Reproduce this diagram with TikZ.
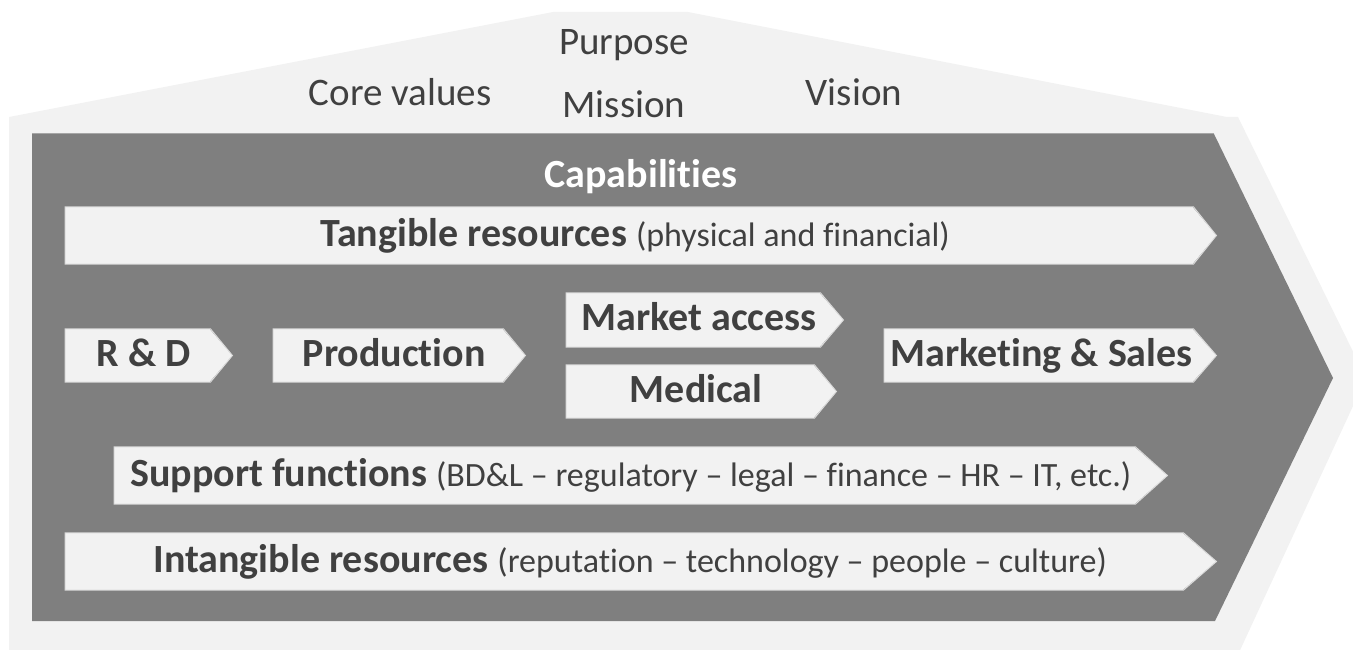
\documentclass[tikz,border=0pt]{standalone}
\usepackage{fontspec}
\setmainfont{Carlito}[Ligatures=NoCommon]
\usetikzlibrary{positioning}
\definecolor{lite}{HTML}{F2F2F2}
\definecolor{slate}{HTML}{7F7F7F}
\definecolor{ink}{HTML}{404040}
\definecolor{rim}{HTML}{DCDCDC}
\definecolor{edge}{HTML}{A6A6A6}
\tikzset{
  bar/.style={fill=lite, text=ink, font=\bfseries\fontsize{40}{48}\selectfont,
    inner sep=0pt, anchor=west, text height=21pt, text depth=0pt},
  nudge/.style={execute at begin node={\hspace*{#1}}},
  nudge/.default=12pt,
  toplabel/.style={text=ink, font=\fontsize{39}{47}\selectfont, inner sep=0pt, anchor=base},
}
% lighter, smaller text in brackets
\newcommand\aside[1]{{\mdseries\fontsize{34}{40}\selectfont(#1)}}
% arrow point on the east side of a bar node: name, depth
\newcommand\barpoint[2]{%
  \fill[lite] ([xshift=-1pt]#1.north east) -- ([xshift=#2pt]#1.east)
    -- ([xshift=-1pt]#1.south east) -- cycle;
  \draw[rim, line width=1pt, line join=miter] (#1.north west) -- (#1.north east)
    -- ([xshift=#2pt]#1.east) -- (#1.south east) -- (#1.south west) -- cycle;}
\begin{document}
\begin{tikzpicture}[x=1pt, y=-1pt]
  \useasboundingbox (0,0) rectangle (1353,650);
  \clip (0,0) rectangle (1353,650);
  % house shape with the big arrow
  \fill[lite] (9,700) -- (9,117) -- (553,12) -- (688,12) -- (1227,117) -- (1238,117)
    -- (1366,378) -- (1217,700) -- cycle;
  \fill[slate] (32,134) -- (1214,134) -- (1333,378) -- (1215,621) -- (32,621) -- cycle;
  \draw[edge, line width=1pt] (32,134) -- (1214,134);
  % roof labels
  \node[toplabel] (purpose) at (624,55) {Purpose};
  \node[toplabel] (mission) at (624,118) {Mission};
  \node[toplabel] (values) at (400,106) {Core values};
  \node[toplabel] (vision) at (854,106) {Vision};
  \node[text=white, font=\bfseries\fontsize{40}{48}\selectfont, inner sep=0pt,
    text height=21pt, text depth=0pt] (capab) at (641,177) {Capabilities};
  % bars
  \node[bar, nudge, minimum width=1128pt, minimum height=57pt] (tangible) at (65,235.5)
    {Tangible resources \aside{physical and financial}};
  \barpoint{tangible}{23}
  \node[bar, nudge, minimum width=145pt, minimum height=53pt] (rd) at (65,355.5) {R \& D};
  \barpoint{rd}{22}
  \node[bar, nudge, minimum width=230pt, minimum height=53pt] (prod) at (273,355.5) {Production};
  \barpoint{prod}{22}
  \node[bar, nudge, minimum width=254pt, minimum height=54pt] (access) at (566,320) {Market access};
  \barpoint{access}{23}
  \node[bar, nudge, minimum width=248pt, minimum height=53pt] (medical) at (566,391.5) {Medical};
  \barpoint{medical}{22}
  \node[bar, nudge=6pt, minimum width=309pt, minimum height=53pt] (sales) at (884,355.5) {Marketing \& Sales};
  \barpoint{sales}{23}
  \node[bar, nudge, minimum width=1021pt, minimum height=57pt] (support) at (114,475.5)
    {Support functions \aside{BD\&L – regulatory – legal – finance – HR – IT, etc.}};
  \barpoint{support}{32}
  \node[bar, nudge, minimum width=1118pt, minimum height=57pt] (intangible) at (65,561.5)
    {Intangible resources \aside{reputation – technology – people – culture}};
  \barpoint{intangible}{33}
\end{tikzpicture}
\end{document}
